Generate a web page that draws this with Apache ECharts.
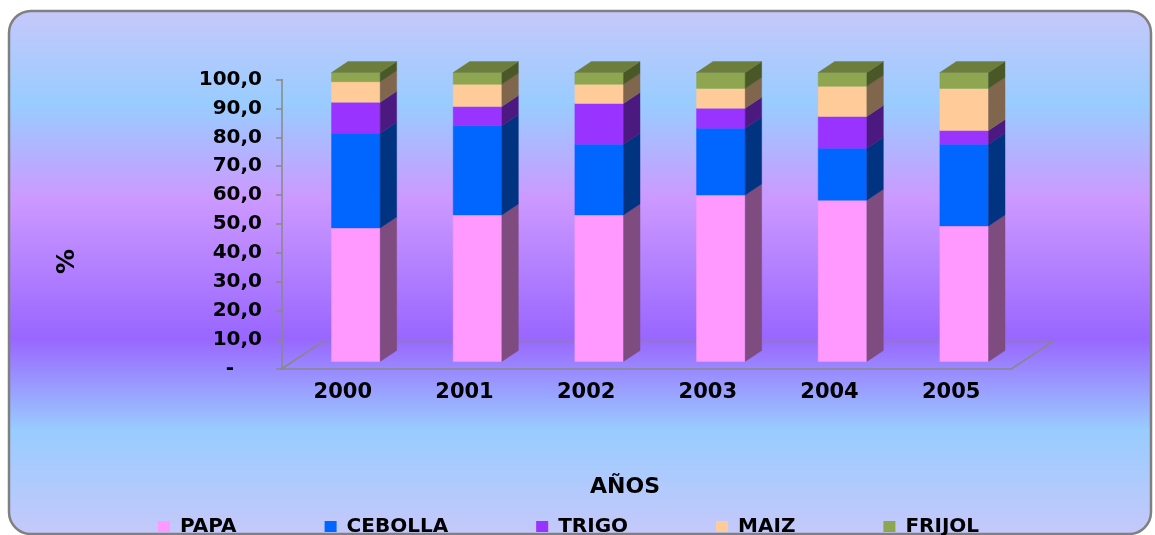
<!DOCTYPE html>
<html>
<head>
<meta charset="utf-8">
<script src="https://cdn.jsdelivr.net/npm/echarts@6/dist/echarts.min.js"></script>
<style>
html,body{margin:0;padding:0;background:#fff;}
#chart{width:1155px;height:535px;}
</style>
</head>
<body>
<div id="chart"></div>
<script>
// ---- data ----
const years = ['2000', '2001', '2002', '2003', '2004', '2005'];
const seriesNames = ['PAPA', 'CEBOLLA', 'TRIGO', 'MAIZ', 'FRIJOL'];
const papa    = [46.2, 50.7, 50.7, 57.6, 55.8, 46.9];
const cebolla = [32.8, 30.9, 24.5, 23.1, 18.0, 28.3];
const trigo   = [10.7,  6.6, 14.1,  6.9, 11.0,  4.7];
const maiz    = [ 7.1,  7.7,  6.6,  6.9, 10.4, 14.6];
const frijol  = [ 3.2,  4.1,  4.1,  5.5,  4.8,  5.5];
const yTicks  = [0, 10, 20, 30, 40, 50, 60, 70, 80, 90, 100];

// ---- styles ----
const frontColors = ['#FF99FF', '#0066FF', '#9933FF', '#FFCC99', '#8DA64F'];
const sideColors  = ['#7F4C7F', '#003380', '#4C1980', '#7F664C', '#4A5828'];
const topColor = '#6C7D3C';
const FONT = 'DejaVu Sans';

const values = [papa, cebolla, trigo, maiz, frijol];
const bases = values.map((arr, s) => arr.map((_, i) => {
  let b = 0;
  for (let k = 0; k < s; k++) b += values[k][i];
  return b;
}));

function makeBarSeries(s) {
  const isTop = s === values.length - 1;
  return {
    type: 'custom',
    name: seriesNames[s],
    z: 3,
    itemStyle: { color: frontColors[s] },
    encode: { x: 0, y: 2 },
    data: years.map((_, i) => [i, bases[s][i], values[s][i]]),
    renderItem: function (params, api) {
      const i = api.value(0), b = api.value(1), v = api.value(2);
      const p0 = api.coord([i, b]);
      const p1 = api.coord([i, b + v]);
      const band = api.size([1, 0])[0];
      const bw = band * 0.40;
      const cx = p0[0] + band * 0.107;
      const xl = cx - bw / 2, xr = cx + bw / 2;
      const yb = p0[1] - 7, yt = p1[1] - 7;
      const dx = 16.5, dy = -11;
      const children = [
        { type: 'rect', shape: { x: xl, y: yt, width: bw, height: yb - yt },
          style: { fill: frontColors[s], stroke: frontColors[s], lineWidth: 0.4 } },
        { type: 'polygon', shape: { points: [[xr, yb], [xr, yt], [xr + dx, yt + dy], [xr + dx, yb + dy]] },
          style: { fill: sideColors[s], stroke: sideColors[s], lineWidth: 0.4 } }
      ];
      if (isTop) {
        children.push({ type: 'polygon', shape: { points: [[xl, yt], [xr, yt], [xr + dx, yt + dy], [xl + dx, yt + dy]] },
          style: { fill: topColor, stroke: topColor, lineWidth: 0.4 } });
      }
      return { type: 'group', children: children };
    }
  };
}

const floorSeries = {
  type: 'custom',
  name: 'floor',
  silent: true,
  z: 1,
  data: [[0, 0]],
  encode: { x: 0, y: 1 },
  renderItem: function (params, api) {
    const cs = params.coordSys;
    const gx = cs.x, gy = cs.y + cs.height, gw = cs.width;
    const ddx = 41, ddy = -27;
    return {
      type: 'polyline',
      shape: { points: [[gx, gy], [gx + ddx, gy + ddy], [gx + gw + ddx, gy + ddy], [gx + gw, gy]] },
      style: { fill: null, stroke: '#888888', lineWidth: 1.5 }
    };
  }
};

const chart = echarts.init(document.getElementById('chart'), null, { renderer: 'canvas' });
const option = {
  animation: false,
  backgroundColor: '#ffffff',
  textStyle: { fontFamily: FONT },
  graphic: [{
    type: 'rect',
    z: -100,
    silent: true,
    shape: { x: 9, y: 11, width: 1142, height: 523, r: 22 },
    style: {
      fill: new echarts.graphic.LinearGradient(0, 0, 0, 1, [
        { offset: 0.00, color: '#C6C8FA' },
        { offset: 0.18, color: '#99CCFF' },
        { offset: 0.36, color: '#CC99FF' },
        { offset: 0.625, color: '#9966FF' },
        { offset: 0.80, color: '#99CCFF' },
        { offset: 1.00, color: '#C6C8FA' }
      ]),
      stroke: '#808080',
      lineWidth: 2.5
    }
  }],
  grid: { left: 282, right: 143, top: 79.5, bottom: 166.5, containLabel: false },
  legend: {
    data: seriesNames,
    left: 153,
    top: 511.5,
    icon: 'rect',
    itemWidth: 12,
    itemHeight: 11,
    itemGap: 88,
    textStyle: { fontFamily: FONT, fontSize: 20, fontWeight: 'bold', color: '#000', padding: [0, 0, 0, 5] }
  },
  xAxis: {
    type: 'category',
    data: years,
    name: 'AÑOS',
    nameLocation: 'middle',
    nameGap: 108,
    nameTextStyle: { fontFamily: FONT, fontSize: 22, fontWeight: 'bold', color: '#000', padding: [0, 44, 0, 0] },
    axisLine: { lineStyle: { color: '#888888', width: 1.5 } },
    axisTick: { length: 5, lineStyle: { color: '#888888', width: 1.5 } },
    axisLabel: { margin: 14, fontFamily: FONT, fontSize: 21, fontWeight: 'bold', color: '#000' },
    splitLine: { show: false }
  },
  yAxis: {
    type: 'value',
    min: yTicks[0],
    max: yTicks[yTicks.length - 1],
    interval: 10,
    name: '%',
    nameLocation: 'middle',
    nameRotate: 90,
    nameGap: 202,
    nameTextStyle: { fontFamily: FONT, fontSize: 25, fontWeight: 'bold', color: '#000', padding: [0, 75, 0, 0] },
    axisLine: { show: true, lineStyle: { color: '#888888', width: 1.5 } },
    axisTick: { show: true, length: 6, lineStyle: { color: '#888888', width: 1.5 } },
    axisLabel: {
      margin: 20, fontFamily: FONT, fontSize: 20, fontWeight: 'bold', color: '#000',
      formatter: function (v) { return v === 0 ? '-    ' : v.toFixed(1).replace('.', ','); }
    },
    splitLine: { show: false }
  },
  series: [floorSeries].concat(values.map((_, s) => makeBarSeries(s)))
};
chart.setOption(option);
</script>
</body>
</html>
